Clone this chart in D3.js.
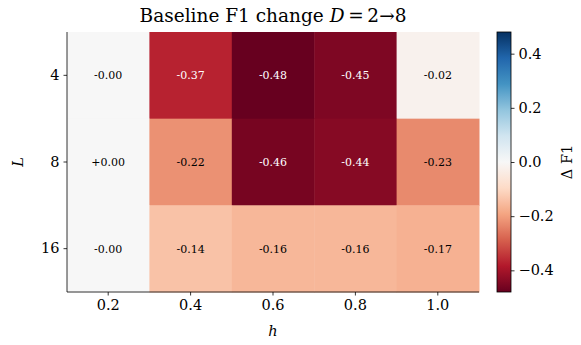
<!DOCTYPE html>
<html>
<head>
<meta charset="utf-8">
<script src="https://cdn.jsdelivr.net/npm/d3@7"></script>
<style>
  body { margin: 0; background: #fff; }
  text { font-family: "DejaVu Serif", serif; }
</style>
</head>
<body>
<div id="chart"></div>
<script>
// data
hValues = ["0.2", "0.4", "0.6", "0.8", "1.0"];
lValues = ["4", "8", "16"];
f1Change = [
    [-0.001, -0.37, -0.48, -0.45, -0.02],
    [0.001, -0.22, -0.46, -0.44, -0.23],
    [-0.001, -0.14, -0.16, -0.16, -0.17]
];
cbarTicks = [0.4, 0.2, 0.0, -0.2, -0.4];
vmax = 0.48;

width = 581;
height = 345;
plotLeft = 67; plotRight = 479; plotTop = 32; plotBottom = 292;
cbarLeft = 497; cbarWidth = 14;
tickFont = "14.5px";

// matplotlib RdBu (ColorBrewer, linear between stops)
rdbu = ["#67001f", "#b2182b", "#d6604d", "#f4a582", "#fddbc7", "#f7f7f7",
    "#d1e5f0", "#92c5de", "#4393c3", "#2166ac", "#053061"];
rdbuInterp = d3.piecewise(d3.interpolateRgb, rdbu);

cells = [];
for (var r = 0; r < lValues.length; r++) {
    for (var c = 0; c < hValues.length; c++) {
        cells.push({h: hValues[c], l: lValues[r], v: f1Change[r][c]});
    }
}

svg = d3.select("#chart").append("svg")
    .attr("width", width)
    .attr("height", height);

x_scale = d3.scaleBand().domain(hValues).range([plotLeft, plotRight]);
y_scale = d3.scaleBand().domain(lValues).range([plotTop, plotBottom]);
colour = d3.scaleSequential(rdbuInterp).domain([-vmax, vmax]);

annotFormat = d3.formatLocale({decimal: ".", thousands: ",", grouping: [3],
    currency: ["", ""], minus: "-"}).format("+.2f");

// cells
svg.append("g").selectAll("rect")
    .data(cells).enter()
    .append("rect")
    .attr("x", (d) => x_scale(d.h))
    .attr("y", (d) => y_scale(d.l))
    .attr("width", x_scale.bandwidth() + 0.5)
    .attr("height", y_scale.bandwidth() + 0.5)
    .attr("fill", (d) => colour(d.v));

svg.append("g").selectAll("text")
    .data(cells).enter()
    .append("text")
    .attr("x", (d) => x_scale(d.h) + x_scale.bandwidth() / 2)
    .attr("y", (d) => y_scale(d.l) + y_scale.bandwidth() / 2)
    .attr("dy", "0.35em")
    .attr("text-anchor", "middle")
    .style("font-size", "11px")
    .attr("fill", (d) => Math.abs(d.v) > 0.3 ? "#fff" : "#000")
    .text((d) => annotFormat(d.v));

// axes
x_axis = d3.axisBottom(x_scale).tickSize(3.5).tickPadding(4);
y_axis = d3.axisLeft(y_scale).tickSize(3.5).tickPadding(4);
gx = svg.append("g")
    .attr("transform", "translate(0," + plotBottom + ")")
    .call(x_axis);
gy = svg.append("g")
    .attr("transform", "translate(" + plotLeft + ",0)")
    .call(y_axis);
[gx, gy].forEach((g) => {
    g.select(".domain").attr("d", null);
    g.selectAll("line").attr("stroke", "#000").attr("stroke-width", 0.8);
    g.selectAll("text").style("font-size", tickFont).attr("fill", "#000")
        .style("font-family", "DejaVu Serif");
});
svg.append("path")
    .attr("d", "M" + plotLeft + "," + plotTop + "V" + plotBottom + "H" + plotRight)
    .attr("fill", "none")
    .attr("stroke", "#000")
    .attr("stroke-width", 0.8);

// labels
svg.append("text")
    .attr("x", (plotLeft + plotRight) / 2)
    .attr("y", 336)
    .attr("text-anchor", "middle")
    .style("font-size", tickFont)
    .style("font-style", "italic")
    .text("h");
svg.append("text")
    .attr("transform", "translate(23," + (plotTop + plotBottom) / 2 + ") rotate(-90)")
    .attr("text-anchor", "middle")
    .style("font-size", tickFont)
    .style("font-style", "italic")
    .text("L");

title = svg.append("text")
    .attr("x", (plotLeft + plotRight) / 2)
    .attr("y", 22)
    .attr("text-anchor", "middle")
    .style("font-size", "18.5px");
title.append("tspan").text("Baseline F1 change ");
title.append("tspan").style("font-style", "italic").text("D");
title.append("tspan").text("\u2009=\u20092\u21928");

// colourbar
defs = svg.append("defs");
grad = defs.append("linearGradient")
    .attr("id", "cbar")
    .attr("x1", 0).attr("y1", 1).attr("x2", 0).attr("y2", 0);
d3.range(0, 1.0001, 0.025).forEach((t) => {
    grad.append("stop")
        .attr("offset", t)
        .attr("stop-color", rdbuInterp(t));
});
cbar_scale = d3.scaleLinear().domain([-vmax, vmax]).range([plotBottom, plotTop]);
svg.append("rect")
    .attr("x", cbarLeft)
    .attr("y", plotTop)
    .attr("width", cbarWidth)
    .attr("height", plotBottom - plotTop)
    .attr("fill", "url(#cbar)")
    .attr("stroke", "#000")
    .attr("stroke-width", 0.8);
cbar_axis = d3.axisRight(cbar_scale)
    .tickValues(cbarTicks)
    .tickFormat(d3.format(".1f"))
    .tickSize(3.5)
    .tickPadding(4);
gc = svg.append("g")
    .attr("transform", "translate(" + (cbarLeft + cbarWidth) + ",0)")
    .call(cbar_axis);
gc.select(".domain").attr("d", null);
gc.selectAll("line").attr("stroke", "#000").attr("stroke-width", 0.8);
gc.selectAll("text").style("font-size", tickFont).attr("fill", "#000")
    .style("font-family", "DejaVu Serif");
svg.append("text")
    .attr("transform", "translate(572," + (plotTop + plotBottom) / 2 + ") rotate(-90)")
    .attr("text-anchor", "middle")
    .style("font-size", tickFont)
    .text("\u0394 F1");
</script>
</body>
</html>
